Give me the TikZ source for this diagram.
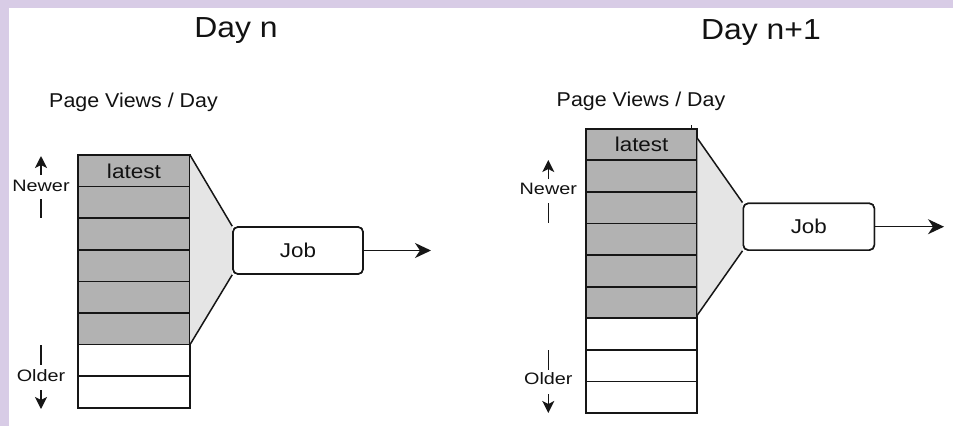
\documentclass[tikz,border=0pt]{standalone}
\usepackage{fontspec}
\usepackage{graphicx}
\setmainfont{Liberation Sans}
\usetikzlibrary{arrows.meta,calc}

\definecolor{lilac}{RGB}{216,204,230}
\definecolor{cellgray}{RGB}{178,178,178}
\definecolor{funnelgray}{RGB}{229,229,229}
\definecolor{ink}{RGB}{22,22,22}
\definecolor{txt}{RGB}{18,18,18}

% horizontal stretch of a label
\newcommand{\hs}[2]{\scalebox{#1}[1]{#2}}

\begin{document}
\begin{tikzpicture}[x=1pt,y=-1pt,
  cell/.style={draw=ink,line width=1.7pt,minimum height=31.6pt,
    inner sep=0pt,outer sep=0pt,text=txt,font=\fontsize{20}{24}\selectfont},
  fresh/.style={cell,fill=cellgray},
  stale/.style={cell,fill=white},
  jobbox/.style={draw=ink,line width=1.6pt,rounded corners=5pt,fill=white,
    inner sep=0pt,text=txt,font=\fontsize{20}{24}\selectfont},
  title/.style={anchor=base,text=txt,inner sep=0pt,font=\fontsize{29}{34}\selectfont},
  caption/.style={anchor=base,text=txt,inner sep=0pt,font=\fontsize{20}{24}\selectfont},
  side/.style={anchor=base,text=txt,inner sep=0pt,font=\fontsize{16.5}{20}\selectfont},
  output/.style={draw=ink,line width=1.5pt,-{Stealth[length=16pt,width=15pt,inset=5pt]}},
  pointer/.style={draw=ink,line width=1.6pt,-{Stealth[length=12pt,width=12pt,inset=3pt]}},
  tick/.style={draw=ink,line width=1.6pt},
  funnel/.style={draw=ink,line width=1.5pt}
]
\useasboundingbox (0,0) rectangle (953,426);

% page background with lilac frame
\fill[lilac] (0,0) rectangle (953,426);
\fill[white] (8.7,8) rectangle (953,426);

%% ---------------- Day n ----------------
\node[title] (titleA) at (236,37.5) {\hs{1.1}{Day n}};
\node[caption] (capA) at (133.5,107.5) {\hs{1.07}{Page Views / Day}};

\foreach \i in {0,...,5}
  \node[fresh,minimum width=112pt] (A\i) at (134,{155+31.6*(\i+0.5)}) {};
\foreach \i in {6,7}
  \node[stale,minimum width=112pt] (A\i) at (134,{155+31.6*(\i+0.5)}) {};
\node[caption] at ($(A0.center)+(0,7.5)$) {\hs{1.13}{latest}};

\node[jobbox,minimum width=130pt,minimum height=47pt] (jobA) at (298,250.5) {};
\filldraw[fill=funnelgray,draw=none] (A0.north east) -- (jobA.north west)
  -- (jobA.south west) -- (A5.south east) -- cycle;
\draw[funnel] (A0.north east) -- (jobA.north west);
\draw[funnel] (A5.south east) -- (jobA.south west);
\node[jobbox,minimum width=130pt,minimum height=47pt] at (jobA.center) {\hs{1.12}{Job}};

\coordinate (outA) at (431,250.5);
\draw[output] (jobA.east) -- (outA);

\node[side] (newerA) at (41,191.7) {\hs{1.2}{Newer}};
\coordinate (nA1) at (41,175);
\coordinate (nA2) at (41,156);
\coordinate (nA3) at (41,199);
\coordinate (nA4) at (41,218);
\draw[pointer] (nA1) -- (nA2);
\draw[tick] (nA3) -- (nA4);

\node[side] (olderA) at (41,381) {\hs{1.2}{Older}};
\coordinate (oA1) at (41,345);
\coordinate (oA2) at (41,365);
\coordinate (oA3) at (41,390);
\coordinate (oA4) at (41,409);
\draw[tick] (oA1) -- (oA2);
\draw[pointer] (oA3) -- (oA4);

%% ---------------- Day n+1 ----------------
\node[title] (titleB) at (761,39) {\hs{1.1}{Day n+1}};
\node[caption] (capB) at (641,106.3) {\hs{1.07}{Page Views / Day}};

\foreach \i in {0,...,5}
  \node[fresh,minimum width=111.3pt] (B\i) at (641.6,{128.7+31.6*(\i+0.5)}) {};
\foreach \i in {6,7,8}
  \node[stale,minimum width=111.3pt] (B\i) at (641.6,{128.7+31.6*(\i+0.5)}) {};
\node[caption] at ($(B0.center)+(0,6.8)$) {\hs{1.12}{latest}};
\draw[line width=0.8pt,draw=ink] (691,125) -- (691,129);

\node[jobbox,minimum width=131pt,minimum height=46.7pt] (jobB) at (808.8,226.7) {};
\coordinate (fB1) at ($(B0.north east)!0.3!(B0.south east)$);
\coordinate (fB2) at ($(B5.south east)!0.1!(B5.north east)$);
\filldraw[fill=funnelgray,draw=none] (fB1) -- (jobB.north west)
  -- (jobB.south west) -- (fB2) -- cycle;
\draw[funnel] (fB1) -- (jobB.north west);
\draw[funnel] (fB2) -- (jobB.south west);
\node[jobbox,minimum width=131pt,minimum height=46.7pt] at (jobB.center) {\hs{1.12}{Job}};

\coordinate (outB) at (944,226.7);
\draw[output] (jobB.east) -- (outB);

\node[side] (newerB) at (548.3,194.3) {\hs{1.2}{Newer}};
\coordinate (nB1) at (548.3,179);
\coordinate (nB2) at (548.3,160);
\coordinate (nB3) at (548.3,203.3);
\coordinate (nB4) at (548.3,223.3);
\draw[pointer] (nB1) -- (nB2);
\draw[tick] (nB3) -- (nB4);

\node[side] (olderB) at (548.3,384) {\hs{1.2}{Older}};
\coordinate (oB1) at (548.3,350);
\coordinate (oB2) at (548.3,370);
\coordinate (oB3) at (548.3,394);
\coordinate (oB4) at (548.3,413);
\draw[tick] (oB1) -- (oB2);
\draw[pointer] (oB3) -- (oB4);
\end{tikzpicture}
\end{document}
